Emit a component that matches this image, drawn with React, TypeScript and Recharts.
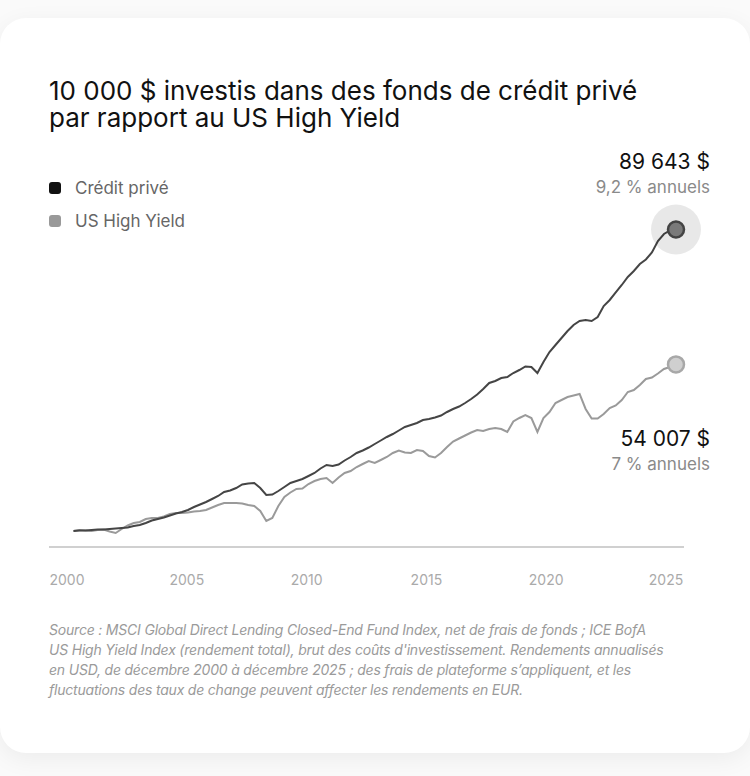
import React from "react";
import { LineChart, Line, XAxis, YAxis } from "recharts";

const yearLabels = ["2000", "2005", "2010", "2015", "2020", "2025"];

const privateCredit = [
  10000, 10132, 10132, 10264, 10396, 10396, 10528, 10660, 10792, 10925,
  11321, 11585, 12113, 12774, 13170, 13566, 14094, 14623, 15019, 15547,
  16340, 17000, 17660, 18453, 19246, 20302, 20699, 21359, 22284, 22548,
  22680, 21359, 19510, 19642, 20567, 21623, 22680, 23208, 23736, 24529,
  25321, 26510, 27435, 27170, 27567, 28623, 29548, 30604, 31265, 32057,
  32982, 33906, 34831, 35624, 36548, 37473, 38001, 38529, 39322, 39586,
  39982, 40511, 41435, 42228, 42888, 43812, 44869, 46058, 47511, 49096,
  49624, 50416, 50681, 51737, 52530, 53455, 53322, 51737, 54643, 57285,
  59134, 60983, 62832, 64417, 65474, 65738, 65474, 66530, 69436, 71021,
  73003, 74984, 77097, 78682, 80531, 81720, 83569, 86607, 88456, 89380,
  89643,
];

const highYield = [
  10000, 10264, 10132, 10000, 10264, 10396, 9868, 9472, 10528, 11453,
  12113, 12377, 13170, 13434, 13434, 13830, 14491, 14755, 14755, 14887,
  15151, 15283, 15547, 16208, 16868, 17396, 17396, 17396, 17264, 16868,
  16604, 15283, 12642, 13434, 16604, 18981, 20170, 21095, 21227, 22416,
  23208, 23736, 24000, 22680, 24133, 25321, 25850, 26906, 27699, 28491,
  27963, 28755, 29548, 30604, 31265, 30736, 30604, 31397, 31133, 29812,
  29416, 30604, 32189, 33642, 34435, 35227, 36020, 36680, 36416, 36944,
  37208, 36944, 36152, 38925, 39850, 40643, 39850, 36152, 39850, 41435,
  43812, 44605, 45397, 45793, 46190, 42228, 39718, 39718, 40907, 42492,
  43152, 44605, 46718, 47246, 48567, 50152, 50548, 51605, 52794, 53322,
  54007,
];

const seriesNames = ["Crédit privé", "US High Yield"];
const endValues = ["89 643 $", "54 007 $"];
const endRates = ["9,2 % annuels", "7 % annuels"];

const monthNames = ["mars", "juin", "sept.", "déc."];
const quarters = privateCredit.map((_, i) => {
  const q = (i + 3) % 4;
  const y = 2000 + Math.floor((i + 3) / 4);
  return `${monthNames[q]} ${y}`;
});

const data = privateCredit.map((v, i) => ({
  i,
  date: quarters[i],
  prive: v,
  hy: highYield[i],
}));

// year labels are spread evenly across the axis (first/last sit at the axis ends)
const LABEL_FIRST = -1.079;
const LABEL_STEP = 19.884;
const labelTicks = yearLabels.map((_, k) => LABEL_FIRST + k * LABEL_STEP);

const LAST = privateCredit.length - 1;
const FONT = "Inter, 'Noto Sans', sans-serif";

const BlackDot = (props: any) => {
  const { cx, cy, index } = props;
  if (index !== LAST) return <g key={`pd-${index}`} />;
  return (
    <g key={`pd-${index}`}>
      <circle cx={cx} cy={cy} r={25} fill="#000" fillOpacity={0.09} />
      <circle cx={cx} cy={cy} r={8} fill="#7a7a7a" stroke="#444" strokeWidth={2.5} />
      <text x={cx + 34} y={cy - 61} textAnchor="end" fontFamily={FONT} fontSize={21} fill="#111">
        {endValues[0]}
      </text>
      <text x={cx + 34} y={cy - 37} textAnchor="end" fontFamily={FONT} fontSize={17} fill="#8a8a8a">
        {endRates[0]}
      </text>
    </g>
  );
};

const GrayDot = (props: any) => {
  const { cx, cy, index } = props;
  if (index !== LAST) return <g key={`hd-${index}`} />;
  return (
    <g key={`hd-${index}`}>
      <circle cx={cx} cy={cy} r={8} fill="#cfcfcf" stroke="#a8a8a8" strokeWidth={2.5} />
      <text x={cx + 34} y={cy + 82} textAnchor="end" fontFamily={FONT} fontSize={21} fill="#111">
        {endValues[1]}
      </text>
      <text x={cx + 34} y={cy + 106} textAnchor="end" fontFamily={FONT} fontSize={17} fill="#8a8a8a">
        {endRates[1]}
      </text>
    </g>
  );
};

const legendColors = ["#111", "#999"];

export default function App() {
  return (
    <div
      style={{
        position: "absolute",
        left: 0,
        top: 0,
        width: 750,
        height: 776,
        background: "#fafafa",
        overflow: "hidden",
      }}
    >
      <div
        style={{
          position: "absolute",
          left: 0,
          top: 18,
          width: 750,
          height: 735,
          background: "#fff",
          borderRadius: 26,
          boxShadow: "0 6px 24px rgba(0,0,0,0.06)",
        }}
      />
      <div
        style={{
          position: "absolute",
          left: 49,
          top: 77,
          fontFamily: FONT,
          fontSize: 26,
          lineHeight: "27px",
          color: "#111",
          whiteSpace: "nowrap",
        }}
      >
        10 000 $ investis dans des fonds de crédit privé
        <br />
        par rapport au US High Yield
      </div>
      <div style={{ position: "absolute", left: 49, top: 171, fontFamily: FONT }}>
        {seriesNames.map((n, k) => (
          <div key={n} style={{ display: "flex", alignItems: "center", height: 33 }}>
            <span
              style={{
                width: 12,
                height: 12,
                borderRadius: 3,
                background: legendColors[k],
                display: "inline-block",
                marginRight: 14,
              }}
            />
            <span style={{ fontSize: 17, color: "#666" }}>{n}</span>
          </div>
        ))}
      </div>
      <div style={{ position: "absolute", left: 0, top: 0 }}>
        <LineChart
          width={750}
          height={776}
          data={data}
          margin={{ top: 160, right: 66, bottom: 189, left: 49 }}
        >
          <YAxis hide type="number" domain={[5773, 108003]} />
          <XAxis
            type="number"
            dataKey="i"
            domain={[-4.066, 101.328]}
            ticks={labelTicks}
            tickFormatter={(v: number) => yearLabels[Math.round((v - LABEL_FIRST) / LABEL_STEP)]}
            height={40}
            axisLine={{ stroke: "#d0d0d0", strokeWidth: 2 }}
            tickLine={false}
            tickSize={0}
            tickMargin={28}
            interval={0}
            tick={{ fill: "#aaa", fontSize: 14, fontFamily: FONT }}
          />
          <Line
            type="linear"
            dataKey="hy"
            name={seriesNames[1]}
            stroke="#9a9a9a"
            strokeWidth={2}
            dot={GrayDot}
            activeDot={false}
            isAnimationActive={false}
          />
          <Line
            type="linear"
            dataKey="prive"
            name={seriesNames[0]}
            stroke="#454545"
            strokeWidth={2}
            dot={BlackDot}
            activeDot={false}
            isAnimationActive={false}
          />
        </LineChart>
      </div>
      <div
        style={{
          position: "absolute",
          left: 49,
          top: 620,
          width: 690,
          fontFamily: FONT,
          fontStyle: "italic",
          fontSize: 14,
          lineHeight: "20px",
          color: "#9a9a9a",
          letterSpacing: "-0.2px",
          whiteSpace: "nowrap",
        }}
      >
        Source : MSCI Global Direct Lending Closed-End Fund Index, net de frais de fonds ; ICE BofA
        <br />
        US High Yield Index (rendement total), brut des coûts d'investissement. Rendements annualisés
        <br />
        en USD, de décembre 2000 à décembre 2025 ; des frais de plateforme s’appliquent, et les
        <br />
        fluctuations des taux de change peuvent affecter les rendements en EUR.
      </div>
    </div>
  );
}
